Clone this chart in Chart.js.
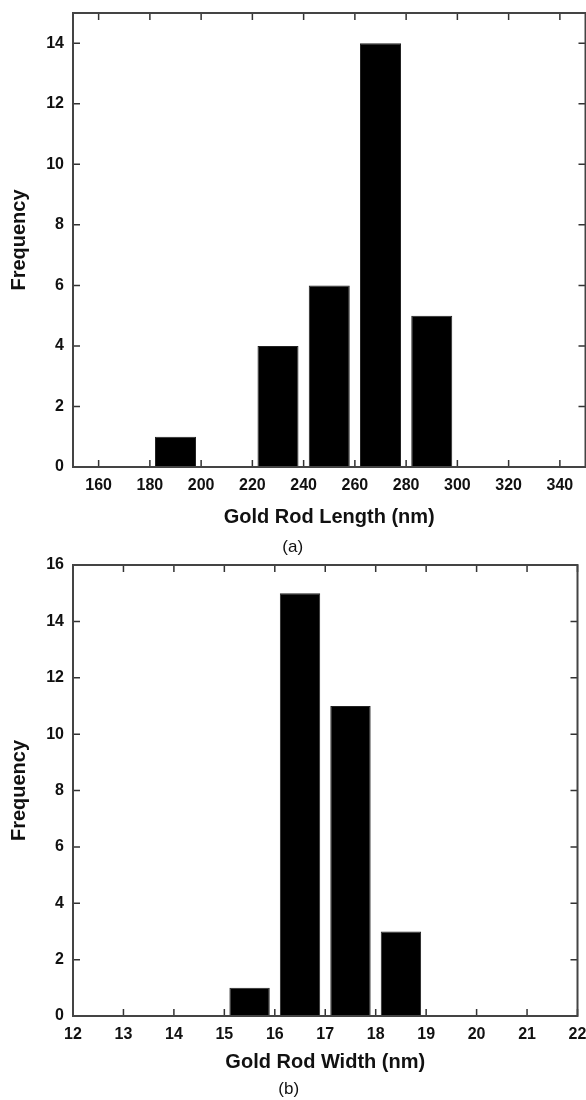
<!DOCTYPE html>
<html>
<head>
<meta charset="utf-8">
<script src="https://cdn.jsdelivr.net/npm/chart.js@4.4.1/dist/chart.umd.min.js"></script>
<style>
  body { margin: 0; background: #fff; }
  #wrap { position: relative; width: 586px; height: 1100px; overflow: hidden; }
  canvas { position: absolute; left: 0; }
</style>
</head>
<body>
<div id="wrap">
  <canvas id="lengthChart" width="586" height="560" style="top:0"></canvas>
  <canvas id="widthChart" width="586" height="560" style="top:540px"></canvas>
</div>
<script>
// (a) gold rod length histogram, bin centres in nm
const lengthBins = [190, 230, 250, 270, 290]
const lengthCounts = [1, 4, 6, 14, 5]
const lengthTicksX = [160, 180, 200, 220, 240, 260, 280, 300, 320, 340]
const lengthTicksY = [0, 2, 4, 6, 8, 10, 12, 14]

// (b) gold rod width histogram
const widthBins = [15.5, 16.5, 17.5, 18.5]
const widthCounts = [1, 15, 11, 3]
const widthTicksX = [12, 13, 14, 15, 16, 17, 18, 19, 20, 21, 22]
const widthTicksY = [0, 2, 4, 6, 8, 10, 12, 14, 16]

const FONT = "'Liberation Sans', Arial, sans-serif"

// frame round the plot plus inward ticks on all four sides
const frameTicks = {
  id: 'frameTicks',
  afterDatasetsDraw(chart) {
    const {ctx, chartArea: a, scales: {x, y}} = chart
    const len = 7
    ctx.save()
    ctx.strokeStyle = '#333'
    ctx.lineWidth = 1.5
    ctx.beginPath()
    x.ticks.forEach(t => {
      const px = x.getPixelForValue(t.value)
      ctx.moveTo(px, a.bottom); ctx.lineTo(px, a.bottom - len)
      ctx.moveTo(px, a.top); ctx.lineTo(px, a.top + len)
    })
    y.ticks.forEach(t => {
      const py = y.getPixelForValue(t.value)
      ctx.moveTo(a.left, py); ctx.lineTo(a.left + len, py)
      ctx.moveTo(a.right, py); ctx.lineTo(a.right - len, py)
    })
    ctx.stroke()
    ctx.strokeStyle = '#444'
    ctx.lineWidth = 2
    ctx.strokeRect(a.left, a.top, a.right - a.left, a.bottom - a.top)
    ctx.restore()
  }
}

function makeHistogram(id, bins, counts, cfg) {
  return new Chart(document.getElementById(id), {
    type: 'bar',
    data: {
      datasets: [{
        data: bins.map((b, i) => ({x: b, y: counts[i]})),
        backgroundColor: '#000',
        borderColor: '#222',
        borderWidth: 1,
        barPercentage: 0.8,
        categoryPercentage: 1.0
      }]
    },
    options: {
      responsive: false,
      animation: false,
      devicePixelRatio: 1,
      layout: {padding: cfg.padding},
      plugins: {
        legend: {display: false},
        tooltip: {enabled: false},
        title: {
          display: true,
          position: 'bottom',
          text: cfg.caption,
          color: '#111',
          padding: 0,
          font: {family: FONT, size: 17, weight: 'normal', lineHeight: 1.2}
        }
      },
      scales: {
        x: {
          type: 'linear',
          offset: false,
          min: cfg.xMin,
          max: cfg.xMax,
          grid: {display: false, offset: false, drawTicks: false},
          border: {display: false},
          afterBuildTicks: s => { s.ticks = cfg.xTicks.map(v => ({value: v})) },
          afterFit: s => {
            s.height = cfg.xAxisHeight
            s.paddingLeft = 0
            s.paddingRight = 0
          },
          ticks: {
            autoSkip: false, maxRotation: 0, padding: 9, color: '#111',
            font: {family: FONT, size: 16, weight: 'bold'}
          },
          title: {
            display: true, text: cfg.xTitle, color: '#111',
            padding: {top: 0, bottom: cfg.xTitlePad},
            font: {family: FONT, size: 20, weight: 'bold', lineHeight: 1.2}
          }
        },
        y: {
          min: 0,
          max: cfg.yMax,
          grid: {display: false, drawTicks: false},
          border: {display: false},
          afterBuildTicks: s => { s.ticks = cfg.yTicks.map(v => ({value: v})) },
          afterFit: s => {
            s.width = 73
            s.paddingTop = 0
            s.paddingBottom = 0
          },
          ticks: {
            padding: 9, color: '#111',
            font: {family: FONT, size: 16, weight: 'bold'}
          },
          title: {
            display: true, text: 'Frequency', color: '#111',
            padding: {top: 7, bottom: 0},
            font: {family: FONT, size: 20, weight: 'bold', lineHeight: 1.2}
          }
        }
      }
    },
    plugins: [frameTicks]
  })
}

makeHistogram('lengthChart', lengthBins, lengthCounts, {
  padding: {top: 13, right: 0.5, left: 0, bottom: 2.8},
  caption: '(a)',
  xMin: 150, xMax: 350, xTicks: lengthTicksX,
  yMax: 15, yTicks: lengthTicksY,
  xTitle: 'Gold Rod Length (nm)',
  xAxisHeight: 69.8, xTitlePad: 7.8
})

makeHistogram('widthChart', widthBins, widthCounts, {
  padding: {top: 25, right: 8.5, left: 0, bottom: 0.8},
  caption: '(b)',
  xMin: 12, xMax: 22, xTicks: widthTicksX,
  yMax: 16, yTicks: widthTicksY,
  xTitle: 'Gold Rod Width (nm)',
  xAxisHeight: 62.8, xTitlePad: 4.8
})
</script>
</body>
</html>
